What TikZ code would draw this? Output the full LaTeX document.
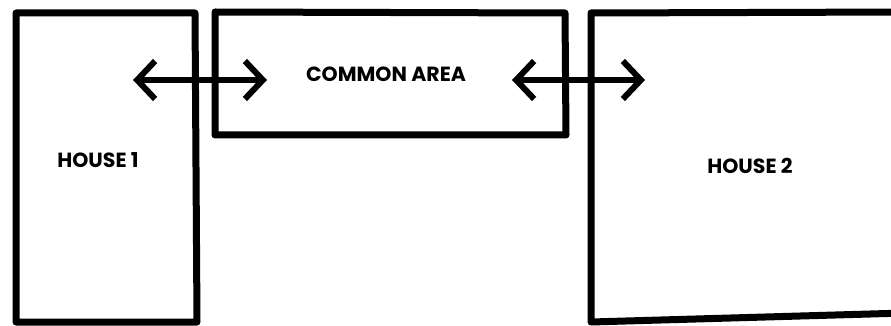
\documentclass[tikz,border=0pt]{standalone}
\usepackage{fontspec}
\setmainfont{Poppins}
\usetikzlibrary{arrows.meta}
\begin{document}
\begin{tikzpicture}[x=1pt,y=-1pt,
  wall/.style={line width=7pt,line join=round,line cap=round},
  link/.style={line width=6pt,{Straight Barb[length=18pt,width=38pt,line width=6pt]}-{Straight Barb[length=18pt,width=38pt,line width=6pt]}},
  lbl/.style={font=\fontsize{20.5}{20.5}\selectfont\bfseries,inner sep=0pt}]
\useasboundingbox[fill=white] (0,0) rectangle (891,326);
\begin{scope}
\clip (0,0) rectangle (891,326);
% House 1
\coordinate (h1nw) at (16,13);
\coordinate (h1ne) at (195,13);
\coordinate (h1se) at (197,322);
\coordinate (h1sw) at (16,322);
\draw[wall] (h1nw) -- (h1ne) -- (h1se) -- (h1sw) -- cycle;
% Common area
\coordinate (cnw) at (215,12);
\coordinate (cne) at (565,13);
\coordinate (cse) at (566,135);
\coordinate (csw) at (215,135);
\draw[wall] (cnw) -- (cne) -- (cse) -- (csw) -- cycle;
% House 2
\coordinate (h2ne) at (905,12);
\coordinate (h2nw) at (591,13);
\coordinate (h2sw) at (591,322);
\coordinate (h2se) at (905,313);
\draw[wall] (h2ne) -- (h2nw) -- (h2sw) -- (h2se);
\end{scope}
% labels
\node[lbl] (house1) at (98,160) {HOUSE 1};
\node[lbl] (common) at (386,74) {COMMON AREA};
\node[lbl] (house2) at (750,166) {HOUSE 2};
% arrows
\coordinate (a1l) at (133,80);
\coordinate (a1r) at (267,80);
\coordinate (a2l) at (512,80);
\coordinate (a2r) at (645,80);
\draw[link] (a1l) -- (a1r);
\draw[link] (a2l) -- (a2r);
\end{tikzpicture}
\end{document}
